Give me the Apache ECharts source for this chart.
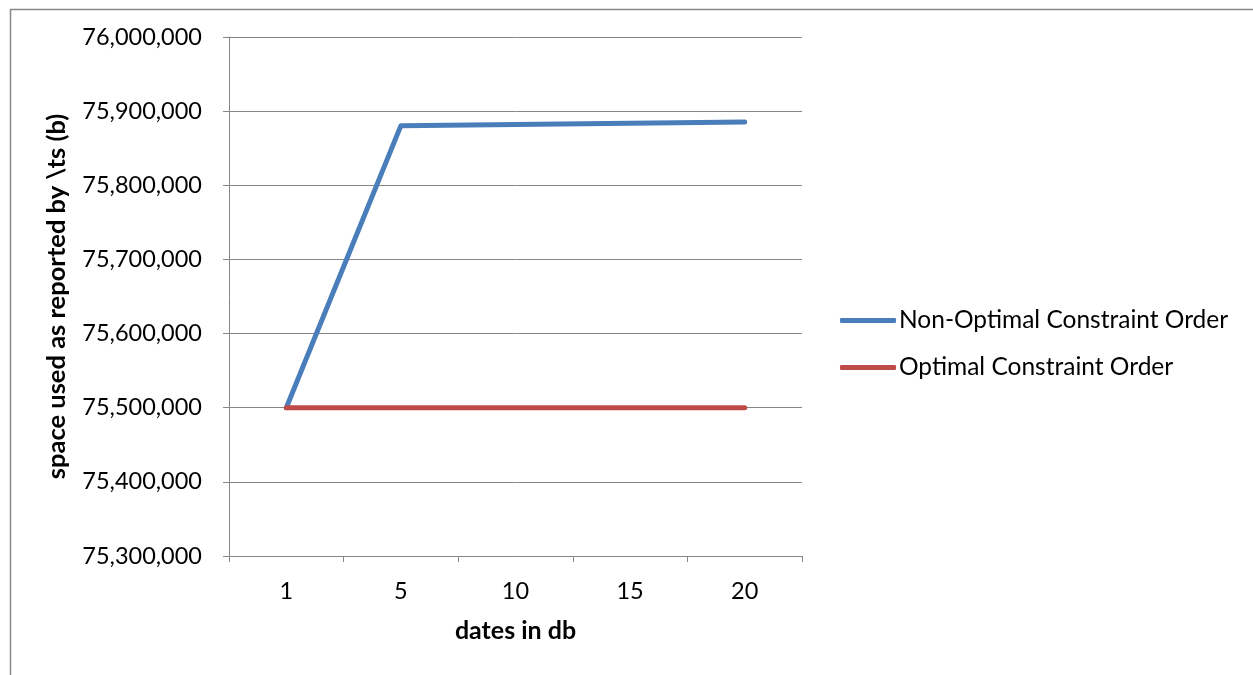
<!DOCTYPE html>
<html><head><meta charset="utf-8">
<script src="https://cdn.jsdelivr.net/npm/echarts@6/dist/echarts.min.js"></script>
<style>html,body{margin:0;padding:0;background:#fff}#c{width:1253px;height:675px}</style>
</head><body><div id="c"></div>
<script>
const categories = ['1', '5', '10', '15', '20'];
const nonOptimal = [75500000, 75880400, 75882000, 75883600, 75885200];
const optimal = [75500000, 75500000, 75500000, 75500000, 75500000];
const yMin = 75300000, yMax = 76000000, yStep = 100000;

const FONT = 'Lato';
const chart = echarts.init(document.getElementById('c'));
chart.setOption({
  animation: false,
  backgroundColor: '#fff',
  textStyle: {fontFamily: FONT},
  graphic: [{
    type: 'rect', left: 8, top: 7, silent: true,
    shape: {width: 1300, height: 720},
    style: {fill: 'none', stroke: '#888', lineWidth: 1.5}
  }],
  grid: {left: 229, right: 451, top: 37, bottom: 119, containLabel: false},
  legend: {
    orient: 'vertical', left: 835, top: 303, itemGap: 22,
    itemWidth: 56, itemHeight: 5, icon: 'roundRect',
    textStyle: {fontFamily: FONT, fontSize: 24.5, color: '#000', padding: [0,0,0,-2]},
    data: ['Non-Optimal Constraint Order', 'Optimal Constraint Order']
  },
  xAxis: {
    type: 'category', data: categories, boundaryGap: true,
    name: 'dates in db', nameLocation: 'middle', nameGap: 62,
    nameTextStyle: {fontFamily: FONT, fontSize: 25, fontWeight: 'bold', color: '#000'},
    axisLine: {lineStyle: {color: '#868686', width: 1}},
    axisTick: {show: true, alignWithLabel: false, length: 6, lineStyle: {color: '#868686'}},
    axisLabel: {fontFamily: FONT, fontSize: 23.5, color: '#000', margin: 23},
    splitLine: {show: false}
  },
  yAxis: {
    type: 'value', min: yMin, max: yMax, interval: yStep,
    name: 'space used as reported by \\ts (b)', nameLocation: 'middle', nameGap: 159,
    nameRotate: 90,
    nameTextStyle: {fontFamily: FONT, fontSize: 25.5, fontWeight: 'bold', color: '#000'},
    axisLine: {show: true, lineStyle: {color: '#868686', width: 1}},
    axisTick: {show: true, length: 6, lineStyle: {color: '#868686'}},
    axisLabel: {fontFamily: FONT, fontSize: 23.5, color: '#000', margin: 27,
      formatter: v => v.toLocaleString('en-US')},
    splitLine: {show: true, lineStyle: {color: '#868686', width: 1}}
  },
  series: [
    {name: 'Non-Optimal Constraint Order', type: 'line', data: nonOptimal,
      symbol: 'none', lineStyle: {width: 5, color: '#4A7EBB', cap: 'round', join: 'round'},
      itemStyle: {color: '#4A7EBB'}},
    {name: 'Optimal Constraint Order', type: 'line', data: optimal,
      symbol: 'none', lineStyle: {width: 5, color: '#BE4B48', cap: 'round', join: 'round'},
      itemStyle: {color: '#BE4B48'}}
  ]
});
</script></body></html>
